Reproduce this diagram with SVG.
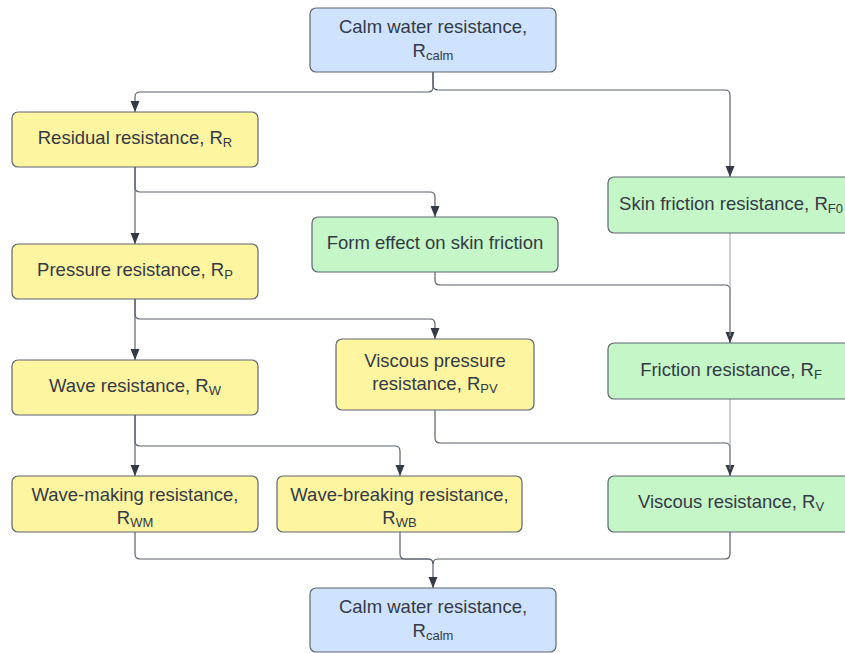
<svg xmlns="http://www.w3.org/2000/svg" width="845" height="653" viewBox="0 0 845 653">
  <style>
    .node rect { stroke: #5f6570; stroke-width: 1.2; }
    .blue rect { fill: #cfe3fe; }
    .yellow rect { fill: #fef5a1; }
    .green rect { fill: #c4f6c7; }
    text { font-family: "Liberation Sans", Arial, sans-serif; font-size: 18.5px; fill: #343a45; text-anchor: middle; }
    .sub { font-size: 13px; }
    .conn path { fill: none; stroke: #5a606b; stroke-width: 1.2; marker-end: url(#arrow); }
    .conn path.plain { marker-end: none; }
    .conn path.thin { stroke: #9a9ea6; stroke-width: 1; }
  </style>
  <defs>
    <marker id="arrow" markerUnits="userSpaceOnUse" markerWidth="12" markerHeight="10" refX="11" refY="4.5" orient="auto">
      <path d="M0,0 L11,4.5 L0,9 z" fill="#343a45"/>
    </marker>
  </defs>
  <rect width="845" height="653" fill="#ffffff"/>

  <g id="connectors" class="conn">
    <path d="M433,72 V87 Q433,92 428,92 H140 Q135,92 135,97 V112"/>
    <path d="M433,72 V85 Q433,90 438,90 H725 Q730,90 730,95 V177"/>
    <path d="M135,167 V244"/>
    <path d="M135,167 V187 Q135,192 140,192 H430 Q435,192 435,197 V217"/>
    <path d="M135,299 V360"/>
    <path d="M135,299 V314 Q135,319 140,319 H430 Q435,319 435,324 V339"/>
    <path d="M435,272 V280 Q435,285 440,285 H725 Q730,285 730,290 V343"/>
    <path class="thin plain" d="M730,233 V336"/>
    <path d="M135,415 V476"/>
    <path d="M135,415 V441 Q135,446 140,446 H395 Q400,446 400,451 V476"/>
    <path d="M435,410 V438 Q435,443 440,443 H725 Q730,443 730,448 V476"/>
    <path class="thin plain" d="M730,399 V469"/>
    <path class="plain" d="M135,532 V554 Q135,559 140,559 H428 Q433,559 433,564"/>
    <path class="plain" d="M400,532 V554 Q400,559 405,559 H428 Q433,559 433,564"/>
    <path d="M730,532 V554 Q730,559 725,559 H438 Q433,559 433,564 V588"/>
  </g>

  <g id="calm-top" class="node blue">
    <rect x="310" y="8" width="246" height="64" rx="6"/>
    <text x="433" y="33">Calm water resistance,</text>
    <text x="433" y="57">R<tspan class="sub" dy="3">calm</tspan></text>
  </g>
  <g id="residual" class="node yellow">
    <rect x="12" y="112" width="246" height="55" rx="6"/>
    <text x="135" y="144">Residual resistance, R<tspan class="sub" dy="3">R</tspan></text>
  </g>
  <g id="skin-friction" class="node green">
    <rect x="608" y="177" width="246" height="56" rx="6"/>
    <text x="731" y="210">Skin friction resistance, R<tspan class="sub" dy="3">F0</tspan></text>
  </g>
  <g id="form-effect" class="node green">
    <rect x="312" y="217" width="246" height="55" rx="6"/>
    <text x="435" y="249">Form effect on skin friction</text>
  </g>
  <g id="pressure" class="node yellow">
    <rect x="12" y="244" width="246" height="55" rx="6"/>
    <text x="135" y="276">Pressure resistance, R<tspan class="sub" dy="3">P</tspan></text>
  </g>
  <g id="viscous-pressure" class="node yellow">
    <rect x="336" y="339" width="198" height="71" rx="6"/>
    <text x="435" y="367">Viscous pressure</text>
    <text x="435" y="390">resistance, R<tspan class="sub" dy="3">PV</tspan></text>
  </g>
  <g id="friction" class="node green">
    <rect x="608" y="343" width="246" height="56" rx="6"/>
    <text x="731" y="376">Friction resistance, R<tspan class="sub" dy="3">F</tspan></text>
  </g>
  <g id="wave" class="node yellow">
    <rect x="12" y="360" width="246" height="55" rx="6"/>
    <text x="135" y="392">Wave resistance, R<tspan class="sub" dy="3">W</tspan></text>
  </g>
  <g id="wave-making" class="node yellow">
    <rect x="12" y="476" width="246" height="56" rx="6"/>
    <text x="135" y="501">Wave-making resistance,</text>
    <text x="135" y="524">R<tspan class="sub" dy="3">WM</tspan></text>
  </g>
  <g id="wave-breaking" class="node yellow">
    <rect x="277" y="476" width="245" height="56" rx="6"/>
    <text x="399.5" y="501">Wave-breaking resistance,</text>
    <text x="399.5" y="524">R<tspan class="sub" dy="3">WB</tspan></text>
  </g>
  <g id="viscous" class="node green">
    <rect x="608" y="476" width="246" height="56" rx="6"/>
    <text x="731" y="508">Viscous resistance, R<tspan class="sub" dy="3">V</tspan></text>
  </g>
  <g id="calm-bottom" class="node blue">
    <rect x="310" y="588" width="246" height="64" rx="6"/>
    <text x="433" y="613">Calm water resistance,</text>
    <text x="433" y="637">R<tspan class="sub" dy="3">calm</tspan></text>
  </g>
</svg>
